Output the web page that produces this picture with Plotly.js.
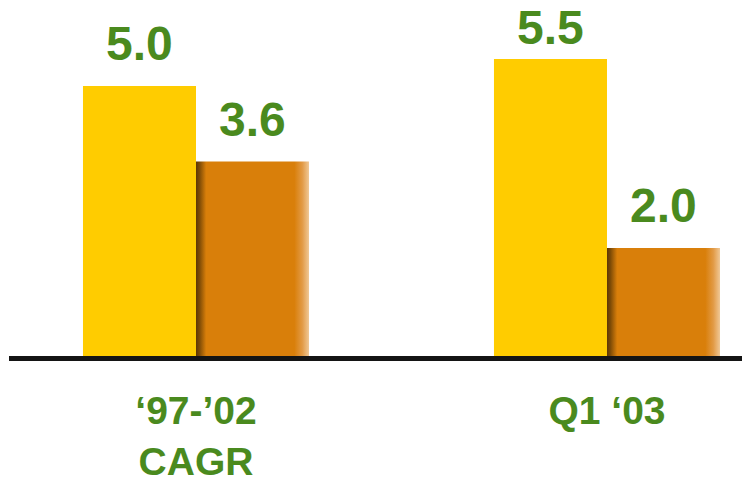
<!DOCTYPE html>
<html>
<head>
<meta charset="utf-8">
<script src="https://cdn.plot.ly/plotly-3.0.1.min.js"></script>
<style>
  html, body { margin: 0; padding: 0; background: #ffffff; }
  #chart { width: 742px; height: 485px; }
</style>
</head>
<body>
<div id="chart"></div>
<svg width="0" height="0" style="position:absolute">
  <defs>
    <linearGradient id="orangeShade" x1="0" y1="0" x2="1" y2="0">
      <stop offset="0" stop-color="#5c3704"/>
      <stop offset="0.03" stop-color="#7c4a06"/>
      <stop offset="0.09" stop-color="#d97f0a"/>
      <stop offset="0.87" stop-color="#d97f0a"/>
      <stop offset="0.94" stop-color="#e29a45"/>
      <stop offset="1" stop-color="#f0c896"/>
    </linearGradient>
  </defs>
</svg>
<script>
// Period categories and their label text
const categories = [0, 1];
const categoryLabels = ["\u201897-\u201902<br>CAGR", "Q1 \u201803"];

// Two series per period
const seriesA = [5.0, 5.5];
const seriesB = [3.6, 2.0];

const green = "#4a8a1e";
const fontFamily = "Liberation Sans, Arial, sans-serif";
const barHalfOffset = 0.1375;

const chartH = 485;
const margin = { l: 9, r: 0, t: 0, b: 129 };
const plotH = chartH - margin.t - margin.b;
const yMax = 6.59;

const traces = [
  {
    type: "bar",
    x: categories,
    y: seriesA,
    marker: { color: "#ffcc00", line: { width: 0 } },
    hoverinfo: "none"
  },
  {
    type: "bar",
    x: categories,
    y: seriesB,
    marker: { color: "#d97f0a", line: { width: 0 } },
    hoverinfo: "none"
  }
];

// Value labels above each bar; the tallest one is pulled closer so it stays on the page
const annotations = [];
[seriesA, seriesB].forEach((series, s) => {
  series.forEach((v, i) => {
    const barTopPx = margin.t + (1 - v / yMax) * plotH;
    annotations.push({
      x: categories[i] + (s === 0 ? -barHalfOffset : barHalfOffset),
      y: v,
      xref: "x",
      yref: "y",
      text: "<b>" + v.toFixed(1) + "</b>",
      showarrow: false,
      yanchor: "bottom",
      yshift: Math.min(14, barTopPx - 56),
      font: { family: fontFamily, size: 48, color: green }
    });
  });
});

const layout = {
  width: 742,
  height: chartH,
  margin: margin,
  paper_bgcolor: "#ffffff",
  plot_bgcolor: "#ffffff",
  showlegend: false,
  barmode: "group",
  bargap: 0.45,
  bargroupgap: 0,
  xaxis: {
    range: [-0.455, 1.3285],
    tickmode: "array",
    tickvals: categories,
    ticktext: categoryLabels.map(t => "<b>" + t.replace("<br>", "</b><br><b>") + "</b>"),
    tickfont: { family: fontFamily, size: 39, color: green },
    ticks: "",
    ticklabelstandoff: 28,
    showline: false,
    showgrid: false,
    zeroline: false
  },
  yaxis: {
    range: [0, yMax],
    visible: false,
    showgrid: false,
    zeroline: false
  },
  shapes: [
    {
      type: "line",
      xref: "paper",
      yref: "paper",
      x0: 0,
      x1: 1,
      y0: -2.5 / plotH,
      y1: -2.5 / plotH,
      line: { color: "#141414", width: 5 },
      layer: "above"
    }
  ],
  annotations: annotations
};

Plotly.newPlot("chart", traces, layout, { staticPlot: true, displayModeBar: false }).then(() => {
  // Shade the second series with a horizontal gradient (dark left edge, faded right edge)
  const barTraces = document.querySelectorAll("#chart .barlayer .trace");
  if (barTraces.length > 1) {
    barTraces[1].querySelectorAll("path").forEach(p => {
      p.style.fill = "url(#orangeShade)";
    });
  }
});
</script>
</body>
</html>
